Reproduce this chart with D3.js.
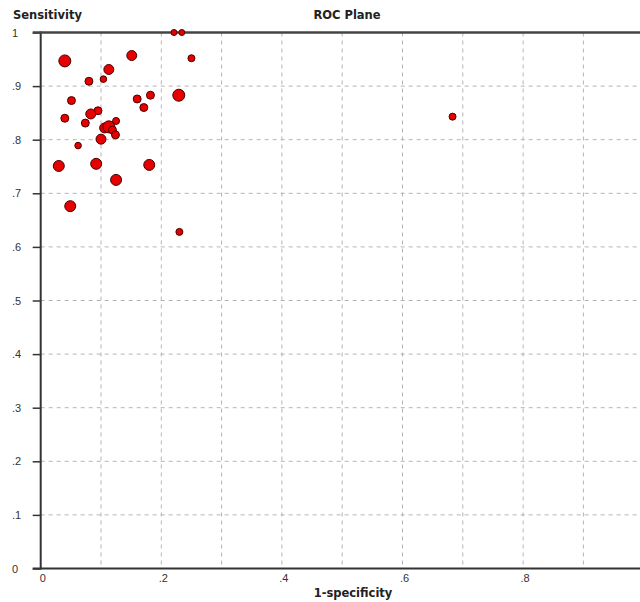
<!DOCTYPE html>
<html lang="en">
<head>
<meta charset="UTF-8">
<title>ROC Plane</title>
<script src="https://d3js.org/d3.v7.min.js"></script>
<style>
    body { margin: 0; background: #fff; }
    svg { display: block; }
    .grid line { stroke: #b4b4b4; stroke-dasharray: 4 4; }
    .lbl { font-family: "Liberation Sans", Arial, sans-serif; font-size: 11px; fill: #333; }
    .ttl { font-family: "DejaVu Sans", sans-serif; font-size: 11.5px; font-weight: bold; fill: #222; }
</style>
</head>
<body>
<svg width="640" height="602"></svg>
<script>
// 1-specificity, sensitivity, study weight
const fpr = [0.221, 0.234, 0.040, 0.151, 0.250, 0.113, 0.080, 0.104, 0.229, 0.160,
             0.182, 0.051, 0.171, 0.095, 0.083, 0.040, 0.074, 0.125, 0.106, 0.113,
             0.119, 0.124, 0.100, 0.062, 0.030, 0.092, 0.180, 0.125, 0.049, 0.230,
             0.683];
const sens = [1.000, 1.000, 0.947, 0.957, 0.952, 0.931, 0.909, 0.913, 0.883, 0.876,
              0.883, 0.873, 0.860, 0.854, 0.848, 0.840, 0.831, 0.835, 0.822, 0.824,
              0.818, 0.809, 0.801, 0.789, 0.751, 0.755, 0.753, 0.725, 0.676, 0.628,
              0.843];
const weight = [25, 25, 100, 69, 34, 69, 44, 30, 100, 44,
                44, 44, 44, 44, 69, 44, 44, 34, 69, 100,
                44, 44, 69, 30, 84, 84, 84, 84, 84, 34,
                34];
const ticks = [0, 0.1, 0.2, 0.3, 0.4, 0.5, 0.6, 0.7, 0.8, 0.9, 1];
const xLabels = [0, 0.2, 0.4, 0.6, 0.8, 1];

const points = fpr.map((d, i) => ({x: d, y: sens[i], w: weight[i]}));

const svg = d3.select("svg");
const x = d3.scaleLinear().domain([0, 1]).range([40.7, 643.7]);
const y = d3.scaleLinear().domain([0, 1]).range([568.5, 32.5]);
const r = d3.scaleSqrt().domain([0, 100]).range([0, 6]);
const fmt = d => d === 0 ? "0" : d === 1 ? "1" : d3.format(".1f")(d).replace(/^0/, "");

// grid
const grid = svg.append("g").attr("class", "grid");
grid.selectAll("line.v")
    .data(ticks.filter(t => t > 0 && t < 1))
    .enter().append("line")
    .attr("x1", d => x(d)).attr("x2", d => x(d))
    .attr("y1", y(1)).attr("y2", y(0));
grid.selectAll("line.h")
    .data(ticks.filter(t => t > 0 && t < 1))
    .enter().append("line")
    .attr("class", "h")
    .attr("x1", x(0)).attr("x2", 640)
    .attr("y1", d => y(d)).attr("y2", d => y(d));

// axes
svg.append("g")
    .attr("transform", `translate(${x(0)},0)`)
    .call(d3.axisLeft(y).tickValues(ticks).tickSize(8).tickFormat(""))
    .call(g => g.select(".domain").attr("stroke", "#333").attr("stroke-width", 2).attr("d", `M0,${y(1) - 1}V${y(0) + 1}`))
    .call(g => g.selectAll(".tick line").attr("stroke", "#333").attr("stroke-width", 1.5));

svg.append("line")
    .attr("x1", x(0) - 8).attr("x2", 640)
    .attr("y1", y(0)).attr("y2", y(0))
    .attr("stroke", "#333").attr("stroke-width", 2);
svg.append("line")
    .attr("x1", x(0) - 8).attr("x2", 640)
    .attr("y1", y(1)).attr("y2", y(1))
    .attr("stroke", "#444").attr("stroke-width", 2.5);

// tick labels
svg.append("g").selectAll("text")
    .data(ticks)
    .enter().append("text")
    .attr("class", "lbl")
    .attr("x", 12)
    .attr("y", d => y(d) + 4)
    .text(fmt);
svg.append("g").selectAll("text")
    .data(xLabels)
    .enter().append("text")
    .attr("class", "lbl")
    .attr("x", d => x(d) + 2)
    .attr("y", 582)
    .attr("text-anchor", "middle")
    .text(fmt);

// titles
svg.append("text").attr("class", "ttl").attr("x", 13).attr("y", 19).text("Sensitivity");
svg.append("text").attr("class", "ttl").attr("x", 347).attr("y", 19).attr("text-anchor", "middle").text("ROC Plane");
svg.append("text").attr("class", "ttl").attr("x", 353).attr("y", 597).attr("text-anchor", "middle").text("1-specificity");

// points
svg.append("g").selectAll("circle")
    .data(points)
    .enter().append("circle")
    .attr("cx", d => x(d.x))
    .attr("cy", d => y(d.y))
    .attr("r", d => r(d.w))
    .attr("fill", "#e60000")
    .attr("stroke", "#4a0000")
    .attr("stroke-width", 1);
</script>
</body>
</html>
